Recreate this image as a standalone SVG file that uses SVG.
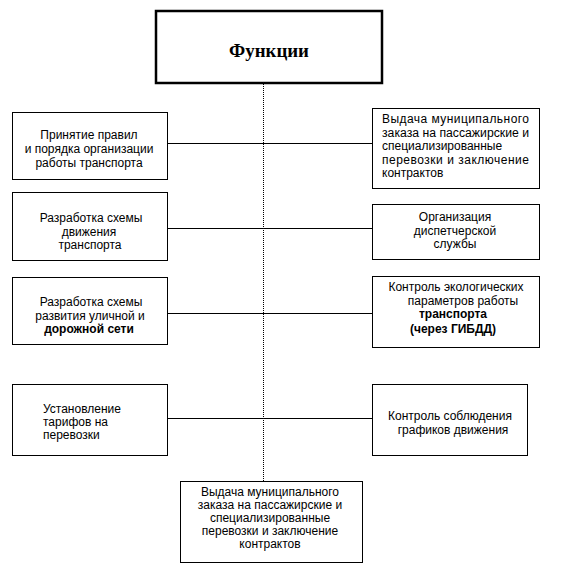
<svg xmlns="http://www.w3.org/2000/svg" width="564" height="588" viewBox="0 0 564 588">
<style>
.box{fill:#fff;stroke:#000;stroke-width:1}
.t{font-family:"Liberation Sans",Arial,sans-serif;font-size:12px;fill:#000}
.c{text-anchor:middle}
.b{font-weight:bold}
.ln{stroke:#000;stroke-width:1;fill:none}
.vl{stroke:#000;stroke-width:1;stroke-dasharray:1 1;fill:none}
</style>
<rect width="564" height="588" fill="#fff"/>
<g id="connectors">
<line class="vl" x1="263.5" y1="84" x2="263.5" y2="481"/>
<line class="ln" x1="168" y1="143.5" x2="372" y2="143.5"/>
<line class="ln" x1="168" y1="228.5" x2="372" y2="228.5"/>
<line class="ln" x1="168" y1="313.5" x2="372" y2="313.5"/>
<line class="ln" x1="168" y1="418.5" x2="372" y2="418.5"/>
</g>
<g id="functions">
<rect x="156" y="11" width="226" height="72" fill="#fff" stroke="#000" stroke-width="2.5"/>
<text x="229" y="57" textLength="80" lengthAdjust="spacingAndGlyphs" font-family="'Liberation Serif','Times New Roman',serif" font-weight="bold" font-size="18">Функции</text>
</g>
<g id="l1">
<rect class="box" x="12.5" y="112.5" width="155" height="67"/>
<text class="t c" x="89" y="139">Принятие правил</text>
<text class="t c" x="89" y="153">и порядка организации</text>
<text class="t c" x="89" y="167">работы транспорта</text>
</g>
<g id="l2">
<rect class="box" x="12.5" y="192.5" width="155" height="68"/>
<text class="t c" x="91" y="222">Разработка схемы</text>
<text class="t c" x="89" y="235.5">движения</text>
<text class="t c" x="90" y="249">транспорта</text>
</g>
<g id="l3">
<rect class="box" x="12.5" y="277.5" width="155" height="67"/>
<text class="t c" x="91" y="306">Разработка схемы</text>
<text class="t c" x="90" y="319.5">развития уличной и</text>
<text class="t c b" x="89" y="333">дорожной сети</text>
</g>
<g id="l4">
<rect class="box" x="12.5" y="384.5" width="155" height="71"/>
<text class="t" x="43" y="413">Установление</text>
<text class="t" x="43" y="426">тарифов на</text>
<text class="t" x="43" y="439">перевозки</text>
</g>
<g id="r1">
<rect class="box" x="372.5" y="108.5" width="167" height="80"/>
<text class="t" x="382" y="123" textLength="147" lengthAdjust="spacing">Выдача  муниципального</text>
<text class="t" x="382" y="136.5" textLength="147" lengthAdjust="spacingAndGlyphs">заказа на пассажирские и</text>
<text class="t" x="382" y="150">специализированные</text>
<text class="t" x="382" y="163.5" textLength="147" lengthAdjust="spacing">перевозки и заключение</text>
<text class="t" x="382" y="177">контрактов</text>
</g>
<g id="r2">
<rect class="box" x="372.5" y="204.5" width="167" height="55"/>
<text class="t c" x="455" y="221">Организация</text>
<text class="t c" x="455" y="234.5">диспетчерской</text>
<text class="t c" x="455" y="248">службы</text>
</g>
<g id="r3">
<rect class="box" x="372.5" y="276.5" width="167" height="71"/>
<text class="t c" x="456" y="291">Контроль экологических</text>
<text class="t c" x="463" y="304.5">параметров работы</text>
<text class="t c b" x="453" y="318">транспорта</text>
<text class="t c b" x="453" y="333">(через ГИБДД)</text>
</g>
<g id="r4">
<rect class="box" x="372.5" y="384.5" width="155" height="71"/>
<text class="t c" x="450" y="420">Контроль соблюдения</text>
<text class="t c" x="453" y="433.5">графиков движения</text>
</g>
<g id="bottom">
<rect class="box" x="180.5" y="481.5" width="182" height="81"/>
<text class="t c" x="270" y="496">Выдача муниципального</text>
<text class="t c" x="270" y="509">заказа на пассажирские и</text>
<text class="t c" x="270" y="522">специализированные</text>
<text class="t c" x="270" y="535">перевозки и заключение</text>
<text class="t c" x="270" y="548">контрактов</text>
</g>
</svg>
